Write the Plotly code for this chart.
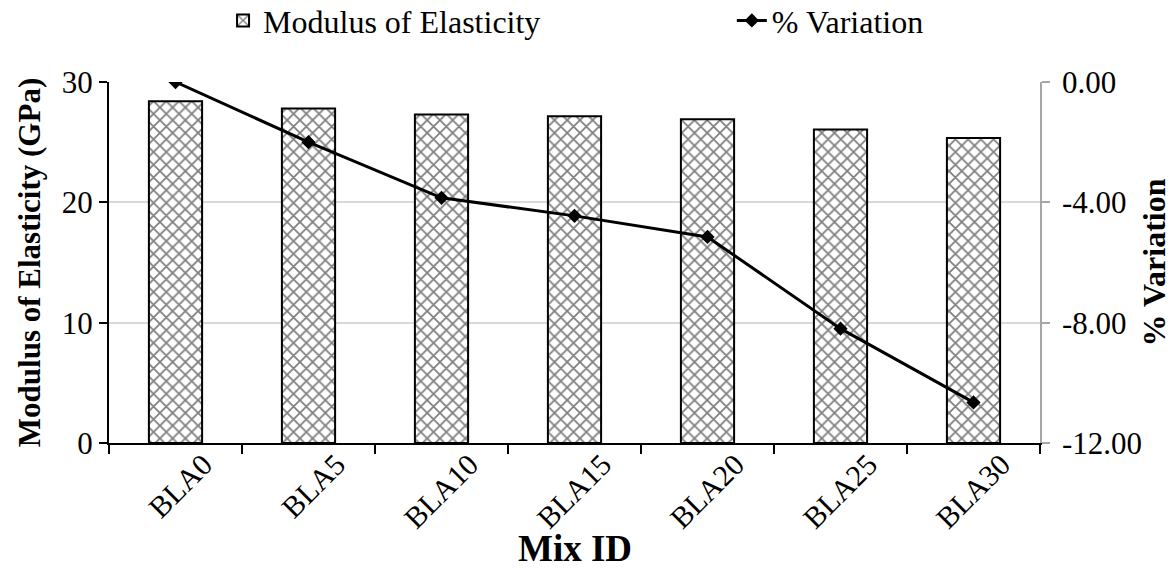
import plotly.graph_objects as go

mix_ids = ["BLA0", "BLA5", "BLA10", "BLA15", "BLA20", "BLA25", "BLA30"]
modulus = [28.4, 27.8, 27.3, 27.15, 26.9, 26.05, 25.35]
variation = [0.0, -2.0, -3.85, -4.45, -5.15, -8.2, -10.65]

FONT = "Liberation Serif"

fig = go.Figure()
fig.add_trace(go.Bar(
    x=mix_ids, y=modulus, name="Modulus of Elasticity",
    width=0.4, legend="legend",
    marker=dict(color="white", line=dict(color="black", width=2),
                pattern=dict(shape="x", fgcolor="black", bgcolor="white",
                             size=9, solidity=0.35, fillmode="overlay")),
    yaxis="y",
))
fig.add_trace(go.Scatter(
    x=mix_ids, y=variation, name="% Variation", legend="legend2",
    mode="lines+markers",
    line=dict(color="black", width=3),
    marker=dict(symbol="diamond", size=11, color="black"),
    yaxis="y2",
))

fig.update_layout(
    width=1176, height=570,
    margin=dict(l=109, r=136, t=82, b=127, autoexpand=False),
    paper_bgcolor="white", plot_bgcolor="white",
    font=dict(family=FONT, size=30, color="black"),
    showlegend=True,
    legend=dict(x=0.1225, xanchor="left", y=1.17, yanchor="middle",
                font=dict(family=FONT, size=32), itemwidth=30, bgcolor="rgba(0,0,0,0)"),
    legend2=dict(x=0.669, xanchor="left", y=1.17, yanchor="middle",
                 font=dict(family=FONT, size=32), itemwidth=30, bgcolor="rgba(0,0,0,0)"),
    bargap=0.6,
    xaxis=dict(
        type="category", showline=True, linecolor="black", linewidth=2,
        ticks="outside", tickson="boundaries", ticklen=9, tickwidth=2, tickcolor="black",
        tickangle=-45, tickfont=dict(family=FONT, size=30), showgrid=False,
        ticklabelshift=28, ticklabelstandoff=-10,
    ),
    yaxis=dict(
        range=[0, 30], tickvals=[0, 10, 20, 30], showline=True, linecolor="black", linewidth=2,
        ticks="outside", ticklen=8, tickwidth=2, tickcolor="black",
        showgrid=True, gridcolor="#d9d9d9", gridwidth=1.5, zeroline=False,
        tickfont=dict(family=FONT, size=31),
        title=dict(text="<b>Modulus of Elasticity (GPa)</b>", font=dict(family=FONT, size=31), standoff=12),
    ),
    yaxis2=dict(
        range=[-12, 0], tickvals=[-12, -8, -4, 0], ticktext=["-12.00", "-8.00", "-4.00", "0.00"],
        overlaying="y", side="right", showline=True, linecolor="#a6a6a6", linewidth=1.5,
        ticks="outside", ticklen=8, tickwidth=1.5, tickcolor="#a6a6a6",
        showgrid=False, zeroline=False, tickfont=dict(family=FONT, size=31),
        ticklabelstandoff=6,
        title=dict(text="<b>% Variation</b>", font=dict(family=FONT, size=32), standoff=2),
    ),
    annotations=[dict(text="<b>Mix ID</b>", xref="paper", yref="paper", x=0.5, y=-0.292,
                      xanchor="center", yanchor="middle", showarrow=False,
                      font=dict(size=37, family=FONT))],
)

fig.write_html("out.html")
